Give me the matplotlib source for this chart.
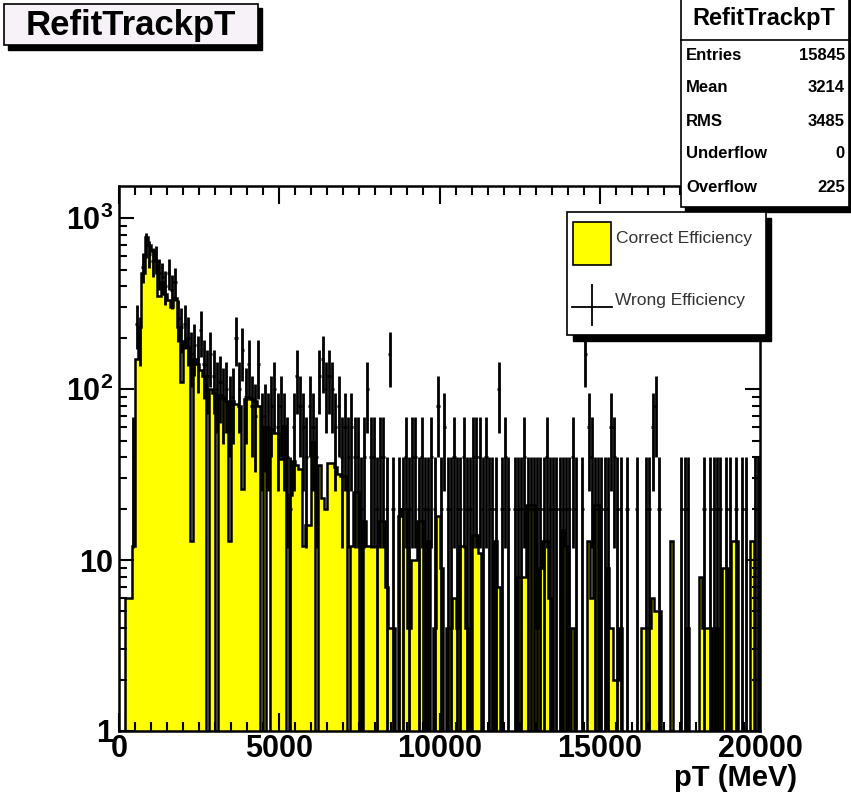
import numpy as np
import matplotlib
matplotlib.use("Agg")
import matplotlib.pyplot as plt
from matplotlib.patches import Rectangle
from matplotlib.lines import Line2D

plt.rcParams['font.family'] = ['Liberation Sans', 'DejaVu Sans']
plt.rcParams['font.weight'] = 'bold'
plt.rcParams['mathtext.fontset'] = 'custom'
plt.rcParams['mathtext.rm'] = 'Liberation Sans:bold'
plt.rcParams['mathtext.it'] = 'Liberation Sans:bold'
plt.rcParams['mathtext.bf'] = 'Liberation Sans:bold'

# 200 bins of 100 MeV, 0 .. 20000 MeV
bin_width = 100
n_bins = 200

# "Correct Efficiency" (yellow filled histogram)
correct = [
    0, 0, 6, 6, 12, 150, 230, 480, 780, 700,
    640, 560, 350, 420, 360, 330, 300, 340, 230, 110,
    190, 175, 13, 150, 140, 130, 120, 0, 100, 95,
    0, 92, 88, 85, 13, 85, 82, 80, 26, 88,
    90, 88, 85, 80, 0, 60, 0, 58, 55, 55,
    39, 61, 0, 24, 38, 36, 34, 12, 16, 16,
    49, 0, 36, 23, 20, 37, 37, 35, 32, 31,
    31, 0, 12, 25, 25, 0, 17, 12, 12, 12,
    12, 17, 17, 7, 4, 4, 0, 18, 20, 20,
    4, 10, 10, 17, 17, 0, 13, 0, 4, 18,
    9, 0, 4, 4, 6, 4, 12, 12, 4, 0,
    14, 14, 11, 0, 0, 1, 0, 13, 7, 0,
    0, 0, 0, 0, 8, 8, 8, 21, 21, 21,
    4, 9, 13, 13, 6, 0, 0, 0, 15, 12,
    0, 4, 0, 0, 0, 0, 13, 6, 21, 21,
    0, 0, 9, 4, 2, 2, 4, 0, 0, 0,
    0, 0, 0, 4, 4, 4, 6, 5, 5, 0,
    0, 0, 13, 0, 0, 0, 0, 4, 0, 0,
    0, 8, 4, 4, 4, 0, 4, 0, 9, 9,
    0, 13, 13, 0, 0, 0, 0, 13, 0, 0,
]

# "Wrong Efficiency" (weighted histogram drawn with error bars)
wrong = [
    0, 0, 0, 0, 40, 240, 200, 520, 700, 620,
    560, 580, 480, 450, 400, 480, 380, 420, 260, 230,
    240, 200, 160, 180, 150, 220, 140, 120, 160, 120,
    100, 110, 90, 100, 80, 90, 200, 100, 170, 90,
    140, 80, 70, 140, 60, 70, 60, 80, 100, 60,
    80, 60, 40, 20, 60, 120, 80, 60, 40, 80,
    60, 40, 120, 150, 100, 120, 100, 60, 80, 40,
    60, 40, 60, 40, 40, 20, 40, 100, 40, 40,
    20, 40, 40, 20, 160, 20, 0, 20, 20, 40,
    20, 40, 40, 20, 40, 20, 20, 40, 20, 80,
    20, 60, 20, 20, 40, 20, 20, 40, 20, 20,
    40, 40, 40, 20, 40, 20, 20, 20, 100, 20,
    40, 20, 0, 20, 20, 20, 40, 20, 20, 20,
    20, 20, 20, 40, 20, 20, 20, 20, 20, 20,
    20, 40, 20, 0, 20, 160, 60, 40, 20, 20,
    20, 20, 20, 60, 40, 20, 20, 0, 20, 0,
    0, 20, 0, 0, 20, 20, 60, 80, 20, 0,
    0, 0, 0, 0, 0, 20, 20, 20, 0, 0,
    0, 0, 20, 0, 20, 20, 20, 20, 0, 20,
    20, 0, 20, 0, 20, 20, 0, 0, 20, 20,
]
wrong_weight = 20  # weight per entry -> error = sqrt(weight * content)

stats_labels = ["Entries", "Mean", "RMS", "Underflow", "Overflow"]
stats_values = ["15845", "3214", "3485", "0", "225"]

W, H = 851, 798
fig = plt.figure(figsize=(W / 100, H / 100), dpi=100)


def fx(x):
    return x / W


def fy(y):
    return 1 - y / H


ax = fig.add_axes([fx(119), fy(731), (760 - 119) / W, (731 - 186) / H])

edges = np.arange(n_bins + 1) * bin_width
centers = edges[:-1] + bin_width / 2
corr = np.array(correct, dtype=float)
corr_plot = np.where(corr > 0, corr, 0.3)

ax.stairs(corr_plot, edges, baseline=0.3, fill=True, color="#ffff00", zorder=1)
ax.stairs(corr_plot, edges, baseline=0.3, fill=False, color="black", lw=1.8, zorder=2)

wr = np.array(wrong, dtype=float)
m = wr > 0
err = np.sqrt(wrong_weight * wr[m])
lo = np.minimum(err, wr[m] - 0.3)
ax.errorbar(centers[m], wr[m], yerr=[lo, err], xerr=bin_width / 2, fmt="none",
            ecolor="black", elinewidth=2.0, capsize=0, zorder=3)

ax.set_yscale("log")
ax.set_xlim(0, 20000)
ax.set_ylim(1, 1540)

ax.set_xticks([0, 5000, 10000, 15000, 20000])
ax.set_xticks(np.arange(0, 20001, 500), minor=True)
ax.set_xticklabels(["0", "5000", "10000", "15000", "20000"])
ax.set_yticks([1, 10, 100, 1000])
ax.set_yticklabels(["1", "10", r"$10^{2}$", r"$10^{3}$"])
ax.yaxis.set_minor_locator(matplotlib.ticker.LogLocator(base=10, subs=np.arange(2, 10)))
ax.yaxis.set_minor_formatter(matplotlib.ticker.NullFormatter())

ax.tick_params(which="both", direction="in", top=True, right=True, width=1.5, labelsize=22)
ax.tick_params(axis="x", which="major", length=13, pad=2)
ax.tick_params(axis="x", which="minor", length=6.5)
ax.tick_params(axis="y", which="major", length=11, pad=4)
ax.tick_params(axis="y", which="minor", length=6)
for s in ax.spines.values():
    s.set_linewidth(1.8)

fig.text(fx(797), fy(778), "pT (MeV)", ha="right", va="center", fontsize=21, fontweight="bold")

# title box
fig.add_artist(Rectangle((fx(8), fy(50)), fx(254), (50 - 8) / H, transform=fig.transFigure,
                         facecolor="black", edgecolor="black", zorder=5))
fig.add_artist(Rectangle((fx(4), fy(45)), fx(254), (45 - 4) / H, transform=fig.transFigure,
                         facecolor="#f7f2f7", edgecolor="black", lw=1.2, zorder=6))
fig.text(fx(131), fy(25), "RefitTrackpT", ha="center", va="center", fontsize=25,
         fontweight="bold", zorder=7)

# stats box
fig.add_artist(Rectangle((fx(685), fy(212)), fx(170), 212 / H, transform=fig.transFigure,
                         facecolor="black", edgecolor="black", zorder=5))
fig.add_artist(Rectangle((fx(681), fy(207)), fx(168), 208 / H, transform=fig.transFigure,
                         facecolor="white", edgecolor="black", lw=1.2, zorder=6))
fig.add_artist(Line2D([fx(681), fx(849)], [fy(40), fy(40)], transform=fig.transFigure,
                      color="black", lw=1.2, zorder=7))
fig.text(fx(764), fy(19), "RefitTrackpT", ha="center", va="center", fontsize=17,
         fontweight="bold", zorder=7)
for i, (lab, val) in enumerate(zip(stats_labels, stats_values)):
    yy = 55 + 33 * i
    fig.text(fx(686), fy(yy), lab, ha="left", va="center", fontsize=12,
             fontweight="bold", zorder=7)
    fig.text(fx(845), fy(yy), val, ha="right", va="center", fontsize=12,
             fontweight="bold", zorder=7)

# legend box
fig.add_artist(Rectangle((fx(573), fy(341)), fx(198), (341 - 218) / H, transform=fig.transFigure,
                         facecolor="black", edgecolor="black", zorder=5))
fig.add_artist(Rectangle((fx(567), fy(335)), fx(199), (335 - 212) / H, transform=fig.transFigure,
                         facecolor="white", edgecolor="black", lw=1.2, zorder=6))
fig.add_artist(Rectangle((fx(573), fy(265)), fx(38), (265 - 222) / H, transform=fig.transFigure,
                         facecolor="#ffff00", edgecolor="black", lw=1.2, zorder=7))
fig.add_artist(Line2D([fx(572), fx(612)], [fy(307), fy(307)], transform=fig.transFigure,
                      color="black", lw=1.3, zorder=7))
fig.add_artist(Line2D([fx(592), fx(592)], [fy(285), fy(325)], transform=fig.transFigure,
                      color="black", lw=1.3, zorder=7))
fig.text(fx(616), fy(239), "Correct Efficiency", ha="left", va="center", fontsize=12.5,
         fontweight="normal", color="#333333", zorder=7)
fig.text(fx(615), fy(300), "Wrong Efficiency", ha="left", va="center", fontsize=12.5,
         fontweight="normal", color="#333333", zorder=7)

fig.savefig("out.png", dpi=100)
